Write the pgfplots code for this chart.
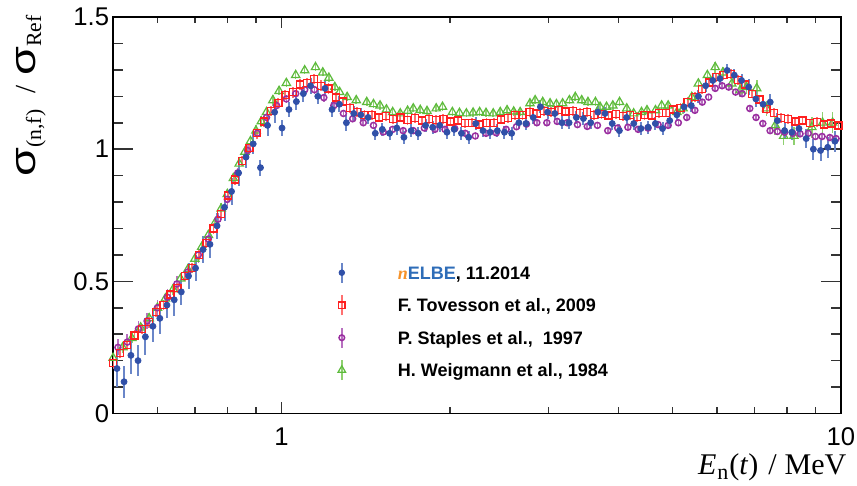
\documentclass[border=0pt]{standalone}
\usepackage{pgfplots}
\pgfplotsset{compat=1.18}
\usepackage{pgfplotstable}
\usepackage{fontspec}
\setmainfont{Liberation Sans}
\newfontfamily\timesf{Liberation Serif}

\definecolor{cblue}{HTML}{3050A8}
\definecolor{cblueerr}{HTML}{6A86C8}
\definecolor{cred}{HTML}{FF2020}
\definecolor{crederr}{HTML}{FF7070}
\definecolor{cpurple}{HTML}{9A2FA0}
\definecolor{cpurpleerr}{HTML}{B870C0}
\definecolor{cgreen}{HTML}{5DBB3C}
\definecolor{cgreenerr}{HTML}{8FD070}
\definecolor{nelbeblue}{HTML}{2E6DB8}
\definecolor{nelbeorange}{HTML}{F5922A}

% nELBE, 11.2014
\pgfplotstableread{
x y e
0.508 0.17 0.07
0.523 0.12 0.06
0.538 0.22 0.07
0.554 0.20 0.06
0.571 0.29 0.07
0.589 0.33 0.06
0.606 0.36 0.06
0.624 0.41 0.05
0.643 0.43 0.06
0.662 0.46 0.05
0.682 0.52 0.05
0.702 0.55 0.05
0.724 0.62 0.05
0.745 0.64 0.05
0.767 0.71 0.05
0.791 0.78 0.05
0.814 0.84 0.05
0.838 0.91 0.05
0.864 0.97 0.04
0.890 1.02 0.04
0.917 0.93 0.03
0.944 1.09 0.04
0.972 1.14 0.04
1.002 1.08 0.03
1.031 1.15 0.03
1.063 1.18 0.03
1.094 1.21 0.03
1.127 1.24 0.03
1.161 1.20 0.03
1.196 1.23 0.03
1.231 1.15 0.03
1.269 1.17 0.03
1.306 1.10 0.03
1.346 1.135 0.03
1.386 1.13 0.025
1.428 1.12 0.025
1.471 1.06 0.025
1.514 1.075 0.025
1.560 1.06 0.025
1.607 1.08 0.025
1.655 1.045 0.025
1.705 1.07 0.025
1.756 1.06 0.025
1.809 1.09 0.025
1.863 1.083 0.025
1.918 1.09 0.025
1.976 1.064 0.025
2.035 1.075 0.025
2.097 1.06 0.025
2.160 1.045 0.025
2.224 1.097 0.025
2.291 1.07 0.025
2.360 1.064 0.025
2.431 1.07 0.025
2.503 1.064 0.025
2.578 1.06 0.025
2.656 1.10 0.025
2.735 1.097 0.025
2.818 1.12 0.025
2.902 1.16 0.025
2.989 1.14 0.025
3.080 1.135 0.025
3.172 1.10 0.025
3.266 1.10 0.025
3.365 1.12 0.025
3.465 1.116 0.025
3.570 1.10 0.025
3.676 1.14 0.025
3.787 1.135 0.025
3.901 1.097 0.025
4.017 1.07 0.025
4.138 1.12 0.025
4.262 1.097 0.025
4.390 1.078 0.025
4.522 1.083 0.025
4.658 1.097 0.025
4.797 1.078 0.025
4.941 1.108 0.025
5.089 1.13 0.025
5.242 1.16 0.025
5.400 1.165 0.025
5.561 1.20 0.025
5.729 1.24 0.025
5.900 1.26 0.025
6.077 1.267 0.025
6.260 1.298 0.025
6.447 1.28 0.025
6.641 1.26 0.025
6.840 1.235 0.03
7.045 1.19 0.03
7.257 1.17 0.03
7.474 1.178 0.03
7.699 1.108 0.03
7.930 1.07 0.03
8.168 1.064 0.03
8.412 1.078 0.03
8.665 1.04 0.035
8.925 1.00 0.04
9.193 0.995 0.04
9.469 1.007 0.04
9.753 1.03 0.04
}\nelbe

% F. Tovesson et al., 2009
\pgfplotstableread{
x y e
0.500 0.19 0.02
0.515 0.23 0.02
0.530 0.26 0.02
0.546 0.295 0.02
0.563 0.32 0.02
0.580 0.345 0.02
0.597 0.385 0.02
0.615 0.41 0.02
0.633 0.45 0.02
0.652 0.475 0.02
0.672 0.52 0.02
0.692 0.55 0.02
0.713 0.60 0.02
0.734 0.645 0.02
0.756 0.70 0.02
0.779 0.755 0.02
0.802 0.825 0.02
0.826 0.885 0.02
0.851 0.955 0.02
0.877 1.005 0.02
0.903 1.06 0.02
0.930 1.105 0.02
0.958 1.145 0.02
0.987 1.175 0.02
1.016 1.205 0.02
1.047 1.215 0.02
1.078 1.245 0.02
1.110 1.25 0.02
1.144 1.265 0.02
1.178 1.24 0.02
1.213 1.23 0.02
1.250 1.195 0.02
1.287 1.18 0.018
1.326 1.155 0.018
1.366 1.14 0.018
1.407 1.13 0.018
1.449 1.13 0.018
1.492 1.12 0.018
1.537 1.125 0.018
1.583 1.115 0.018
1.631 1.12 0.018
1.680 1.11 0.018
1.730 1.118 0.018
1.782 1.108 0.018
1.835 1.115 0.018
1.890 1.11 0.018
1.947 1.115 0.018
2.005 1.105 0.018
2.066 1.108 0.018
2.128 1.098 0.018
2.191 1.10 0.018
2.257 1.093 0.018
2.325 1.10 0.018
2.395 1.10 0.018
2.466 1.112 0.018
2.540 1.118 0.018
2.617 1.13 0.018
2.695 1.128 0.018
2.776 1.14 0.018
2.859 1.135 0.018
2.945 1.145 0.018
3.034 1.14 0.018
3.125 1.148 0.018
3.218 1.142 0.018
3.315 1.145 0.018
3.414 1.138 0.018
3.517 1.14 0.018
3.622 1.13 0.018
3.731 1.133 0.018
3.843 1.127 0.018
3.958 1.132 0.018
4.077 1.126 0.018
4.199 1.13 0.018
4.325 1.122 0.018
4.455 1.128 0.018
4.589 1.127 0.018
4.726 1.136 0.018
4.868 1.138 0.018
5.014 1.15 0.018
5.165 1.155 0.018
5.320 1.178 0.018
5.479 1.198 0.018
5.644 1.228 0.018
5.813 1.252 0.018
5.987 1.272 0.018
6.167 1.28 0.018
6.352 1.285 0.018
6.543 1.262 0.018
6.739 1.245 0.018
6.941 1.21 0.018
7.150 1.188 0.018
7.364 1.152 0.018
7.585 1.138 0.018
7.813 1.118 0.018
8.047 1.115 0.018
8.288 1.105 0.018
8.537 1.108 0.018
8.793 1.098 0.018
9.057 1.102 0.018
9.329 1.093 0.018
9.609 1.097 0.018
9.897 1.09 0.018
}\tovesson

% P. Staples et al., 1997
\pgfplotstableread{
x y e
0.51 0.25 0.03
0.53 0.27 0.03
0.555 0.32 0.03
0.575 0.35 0.03
0.60 0.40 0.03
0.625 0.44 0.03
0.65 0.49 0.03
0.68 0.535 0.03
0.71 0.60 0.03
0.74 0.66 0.025
0.77 0.735 0.025
0.80 0.81 0.025
0.835 0.91 0.02
0.87 0.995 0.02
0.905 1.06 0.02
0.94 1.12 0.02
0.98 1.165 0.015
1.02 1.19 0.015
1.06 1.21 0.015
1.10 1.225 0.015
1.145 1.225 0.015
1.19 1.195 0.015
1.24 1.165 0.012
1.29 1.135 0.012
1.34 1.115 0.012
1.40 1.10 0.012
1.46 1.09 0.012
1.52 1.065 0.012
1.58 1.075 0.012
1.65 1.07 0.012
1.72 1.07 0.012
1.80 1.08 0.012
1.88 1.075 0.012
1.96 1.075 0.012
2.04 1.078 0.012
2.13 1.06 0.012
2.22 1.05 0.012
2.32 1.06 0.012
2.42 1.062 0.012
2.52 1.075 0.012
2.63 1.085 0.012
2.74 1.095 0.012
2.86 1.10 0.012
2.98 1.10 0.012
3.11 1.105 0.012
3.24 1.10 0.012
3.38 1.093 0.012
3.52 1.086 0.012
3.67 1.09 0.012
3.83 1.07 0.012
3.99 1.08 0.012
4.16 1.083 0.012
4.34 1.075 0.012
4.52 1.08 0.012
4.71 1.093 0.012
4.91 1.09 0.012
5.12 1.10 0.012
5.30 1.12 0.012
5.48 1.147 0.012
5.65 1.178 0.012
5.80 1.197 0.012
5.96 1.23 0.012
6.13 1.24 0.012
6.30 1.235 0.012
6.48 1.216 0.012
6.66 1.21 0.012
6.87 1.154 0.012
7.05 1.12 0.012
7.25 1.097 0.012
7.47 1.07 0.012
7.70 1.067 0.012
7.93 1.064 0.012
8.20 1.06 0.012
8.45 1.058 0.012
8.74 1.06 0.012
9.00 1.048 0.012
9.25 1.048 0.012
9.55 1.044 0.012
9.80 1.04 0.012
}\staples

% H. Weigmann et al., 1984
\pgfplotstableread{
x y e
0.50 0.21 0.02
0.52 0.25 0.02
0.54 0.285 0.02
0.56 0.325 0.02
0.58 0.36 0.02
0.60 0.40 0.02
0.62 0.435 0.02
0.64 0.47 0.02
0.66 0.51 0.02
0.68 0.545 0.02
0.70 0.585 0.02
0.72 0.63 0.02
0.74 0.675 0.02
0.76 0.72 0.02
0.78 0.775 0.02
0.80 0.83 0.02
0.82 0.89 0.02
0.84 0.945 0.02
0.86 0.99 0.02
0.88 1.03 0.02
0.90 1.07 0.02
0.92 1.105 0.02
0.94 1.14 0.02
0.965 1.185 0.02
0.99 1.22 0.015
1.02 1.25 0.015
1.06 1.28 0.015
1.10 1.298 0.015
1.15 1.31 0.015
1.185 1.29 0.015
1.215 1.27 0.015
1.245 1.235 0.015
1.27 1.216 0.015
1.31 1.197 0.015
1.36 1.185 0.015
1.42 1.178 0.015
1.46 1.17 0.015
1.50 1.165 0.015
1.54 1.15 0.015
1.58 1.14 0.015
1.63 1.135 0.015
1.68 1.145 0.015
1.72 1.154 0.015
1.77 1.148 0.015
1.82 1.144 0.015
1.89 1.154 0.015
1.94 1.16 0.015
2.02 1.14 0.015
2.08 1.137 0.015
2.14 1.135 0.015
2.20 1.138 0.015
2.26 1.14 0.015
2.32 1.137 0.015
2.39 1.135 0.015
2.46 1.14 0.015
2.53 1.147 0.015
2.60 1.142 0.015
2.67 1.14 0.015
2.78 1.173 0.015
2.84 1.185 0.015
2.93 1.178 0.015
3.02 1.173 0.015
3.10 1.17 0.015
3.18 1.173 0.015
3.27 1.185 0.015
3.35 1.197 0.015
3.44 1.185 0.015
3.53 1.178 0.015
3.64 1.178 0.015
3.71 1.16 0.015
3.81 1.16 0.015
3.91 1.165 0.015
4.02 1.178 0.015
4.14 1.154 0.015
4.26 1.135 0.015
4.40 1.14 0.015
4.50 1.147 0.015
4.66 1.147 0.015
4.78 1.165 0.015
4.91 1.165 0.015
5.09 1.14 0.02
5.22 1.154 0.02
5.41 1.197 0.02
5.56 1.248 0.02
5.77 1.28 0.02
5.96 1.31 0.02
6.15 1.29 0.02
6.38 1.248 0.025
6.60 1.222 0.025
6.78 1.235 0.025
7.07 1.23 0.03
7.36 1.154 0.03
7.63 1.09 0.035
7.90 1.05 0.035
8.24 1.05 0.035
8.87 1.083 0.04
9.27 1.10 0.04
9.66 1.10 0.04
}\weigmann

\newcommand{\sig}{\scalebox{1.3}[1.0]{\fontsize{18}{20}\selectfont σ}}
\newcommand{\sbs}[1]{\raisebox{-3pt}{\timesf\fontsize{10.8}{12}\selectfont #1}}

\begin{document}
\begin{tikzpicture}
\useasboundingbox (-56.5pt,-36pt) rectangle (371.5pt,206.5pt);
\begin{axis}[
  at={(0,0)}, anchor=south west,
  width=363.5pt, height=198pt, scale only axis,
  xmode=log, xmin=0.5, xmax=10, ymin=0, ymax=1.5,
  log ticks with fixed point,
  /pgf/number format/assume math mode=true,
  xtick={1,10},
  minor xtick={0.6,0.7,0.8,0.9,2,3,4,5,6,7,8,9},
  ytick={0,0.5,1,1.5},
  minor ytick={0.1,0.2,0.3,0.4,0.6,0.7,0.8,0.9,1.1,1.2,1.3,1.4},
  tick align=inside, tick pos=both,
  axis line style={line width=0.9pt},
  major tick style={line width=0.8pt, black!80},
  minor tick style={line width=0.8pt, black!80},
  major tick length=10pt, minor tick length=5pt,
  x tick style={/pgfplots/major tick length=5.5pt, /pgfplots/minor tick length=3pt},
  ticklabel style={font=\fontsize{12.8}{14}\selectfont},
  xticklabel style={yshift=-3.5pt},
  yticklabel style={xshift=1.5pt},
  xlabel={\timesf\fontsize{15}{17}\selectfont\textit{E}\kern0.5pt\raisebox{-2.8pt}{\fontsize{11}{12}\selectfont n}\kern0.5pt(\textit{t})\hspace{5pt}/\hspace{4pt}MeV},
  xlabel style={at={(axis description cs:1.008,-0.153)}, anchor=base east, inner sep=0pt},
  ylabel={\sig\sbs{(n,f)}\hspace{8pt}{\timesf\fontsize{14.5}{16}\selectfont /}\hspace{5pt}\sig\sbs{Ref}},
  ylabel style={at={(axis description cs:-0.1073,1.005)}, anchor=base east, inner sep=0pt},
  legend cell align=left,
  legend style={at={(axis description cs:0.2999,0.3838)}, anchor=north west,
    draw=none, fill=none, inner sep=0pt, row sep=5.3pt,
    font=\fontsize{9}{11}\selectfont\bfseries,
    nodes={inner sep=0pt, text height=6.5pt, text depth=0pt}},
]
\addplot[forget plot, only marks, mark=triangle, mark size=2.4pt, color=cgreen, mark options={line width=0.6pt},
  error bars/.cd, y dir=both, y explicit, error mark=none, error bar style={color=cgreenerr, line width=0.8pt}]
  table[x=x, y=y, y error=e] {\weigmann};
\addplot[forget plot, only marks, mark=o, mark size=1.5pt, color=cpurple, mark options={line width=0.75pt},
  error bars/.cd, y dir=both, y explicit, error mark=none, error bar style={color=cpurpleerr, line width=0.8pt}]
  table[x=x, y=y, y error=e] {\staples};
\addplot[forget plot, only marks, mark=square, mark size=1.75pt, color=cred, mark options={line width=0.65pt},
  error bars/.cd, y dir=both, y explicit, error mark=none, error bar style={color=crederr, line width=0.9pt}]
  table[x=x, y=y, y error=e] {\tovesson};
\addplot[forget plot, only marks, mark=*, mark size=1.5pt, color=cblue,
  error bars/.cd, y dir=both, y explicit, error mark=none, error bar style={color=cblueerr, line width=1pt}]
  table[x=x, y=y, y error=e] {\nelbe};

\addlegendimage{legend image code/.code={
  \path[draw=none, fill=none] (-5pt,-5pt) rectangle (28pt,5pt);
  \draw[cblueerr, line width=1pt] (0pt,-5pt) -- (0pt,5pt);
  \draw[cblue, mark=*, mark size=1.4pt] plot coordinates {(0pt,0pt)};}}
\addlegendentry{{\timesf\itshape\color{nelbeorange}n}{\color{nelbeblue}ELBE}, 11.2014}
\addlegendimage{legend image code/.code={
  \path[draw=none, fill=none] (-5pt,-5pt) rectangle (28pt,5pt);
  \draw[crederr, line width=0.9pt] (0pt,-5pt) -- (0pt,5pt);
  \draw[cred, mark=square, mark size=1.6pt, mark options={line width=0.65pt}] plot coordinates {(0pt,0pt)};}}
\addlegendentry{F. Tovesson et al., 2009}
\addlegendimage{legend image code/.code={
  \path[draw=none, fill=none] (-5pt,-5pt) rectangle (28pt,5pt);
  \draw[cpurpleerr, line width=0.9pt] (0pt,-5pt) -- (0pt,5pt);
  \draw[cpurple, mark=o, mark size=1.4pt, mark options={line width=0.75pt}] plot coordinates {(0pt,0pt)};}}
\addlegendentry{P. Staples et al.,\ \ 1997}
\addlegendimage{legend image code/.code={
  \path[draw=none, fill=none] (-5pt,-5pt) rectangle (28pt,5pt);
  \draw[cgreenerr, line width=0.9pt] (0pt,-5pt) -- (0pt,5pt);
  \draw[cgreen, mark=triangle, mark size=2.2pt, mark options={line width=0.6pt}] plot coordinates {(0pt,0pt)};}}
\addlegendentry{H. Weigmann et al., 1984}
\end{axis}
\end{tikzpicture}
\end{document}
